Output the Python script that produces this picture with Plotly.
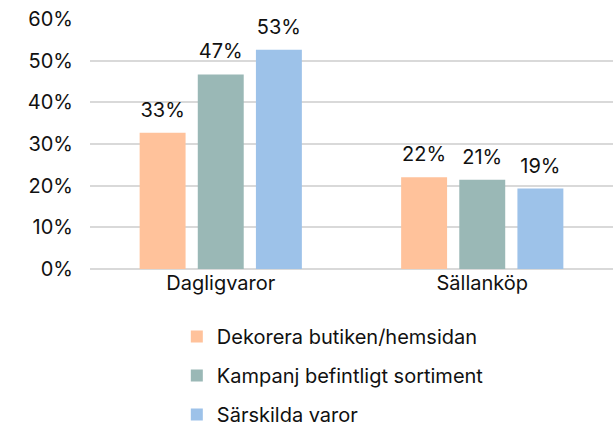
import plotly.graph_objects as go

categories = ["Dagligvaror", "Sällanköp"]
series_names = ["Dekorera butiken/hemsidan", "Kampanj befintligt sortiment", "Särskilda varor"]
values = {
    "Dekorera butiken/hemsidan": [32.7, 22.0],
    "Kampanj befintligt sortiment": [46.7, 21.4],
    "Särskilda varor": [52.6, 19.3],
}
labels = {
    "Dekorera butiken/hemsidan": ["33%", "22%"],
    "Kampanj befintligt sortiment": ["47%", "21%"],
    "Särskilda varor": ["53%", "19%"],
}
colors = ["#FFC29B", "#9AB8B6", "#9DC2E9"]
tick_vals = [0, 10, 20, 30, 40, 50, 60]
tick_text = ["0%", "10%", "20%", "30%", "40%", "50%", "60%"]

FONT = "Inter, Liberation Sans, Arial, sans-serif"
FS = 20

fig = go.Figure()
for i, name in enumerate(series_names):
    fig.add_trace(go.Bar(
        x=categories, y=values[name], name=name,
        marker=dict(color=colors[i], line=dict(width=0)),
        legendgroup=f"g{i}", offsetgroup=f"o{i}",
    ))
# value labels above bars (invisible markers give the extra gap)
for i, name in enumerate(series_names):
    fig.add_trace(go.Scatter(
        x=categories, y=values[name], mode="markers+text",
        text=labels[name], textposition="top center",
        textfont=dict(size=FS, color="#111111", family=FONT),
        marker=dict(size=16, opacity=0),
        showlegend=False, hoverinfo="skip", cliponaxis=False,
        offsetgroup=f"o{i}",
    ))

fig.update_layout(
    width=613, height=424,
    margin=dict(l=90, r=0, t=19, b=155, autoexpand=False),
    paper_bgcolor="white", plot_bgcolor="white",
    barmode="group", bargap=0.333, bargroupgap=0.21,
    scattermode="group", scattergap=0.333,
    font=dict(family=FONT, size=FS, color="#111111"),
    showlegend=True,
    legend=dict(orientation="v", x=0.166, xanchor="left", y=-0.192, yanchor="top",
                font=dict(size=FS, family=FONT, color="#111111"),
                tracegroupgap=10, itemwidth=30, bgcolor="rgba(0,0,0,0)"),
    xaxis=dict(showgrid=False, showline=False, ticks="", tickfont=dict(size=FS),
               automargin=False),
    yaxis=dict(range=[0, 60], tickvals=tick_vals, ticktext=tick_text,
               showgrid=True, gridcolor="#D9D9D9", gridwidth=1.5,
               zeroline=True, zerolinecolor="#D9D9D9", zerolinewidth=1.5,
               showline=False, ticks="", ticklabelstandoff=16, tickfont=dict(size=FS),
               automargin=False),
)

fig.write_html("out.html", config={"displayModeBar": False},
               post_script="document.body.style.margin='0';document.body.style.overflow='hidden';")
